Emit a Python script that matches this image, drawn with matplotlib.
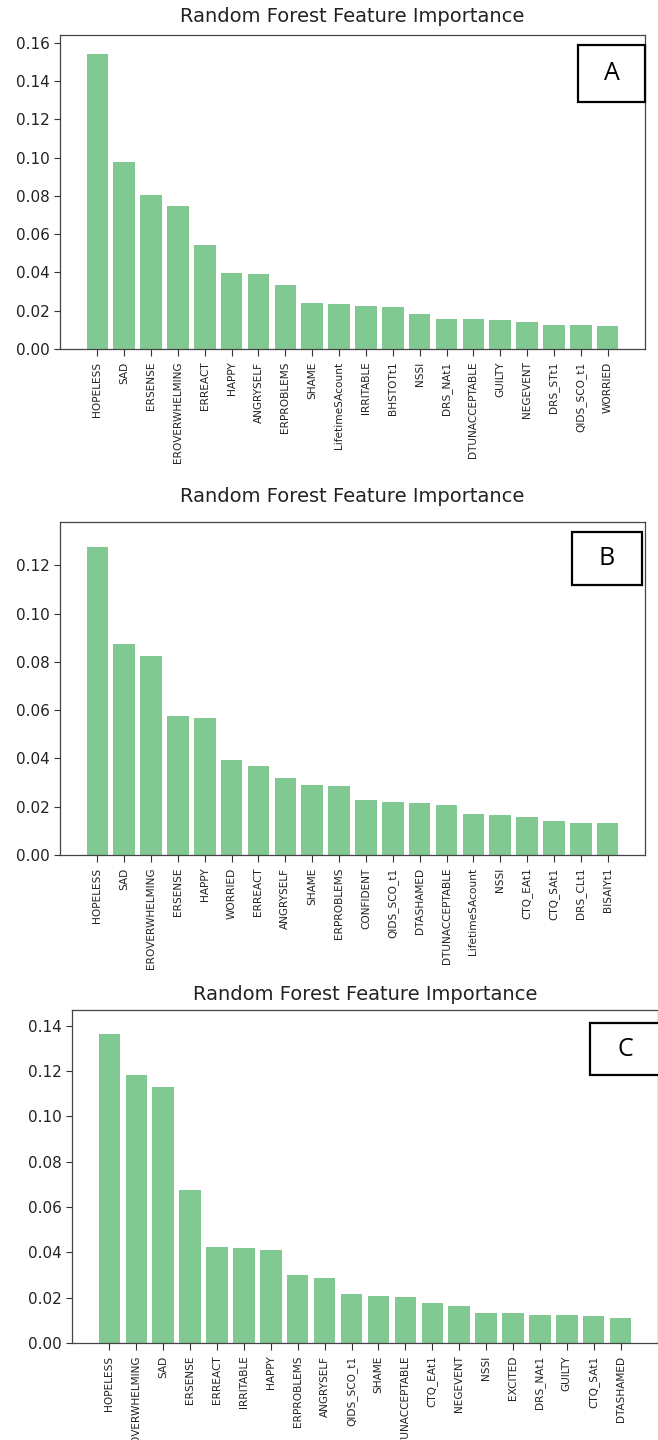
import matplotlib
matplotlib.use("Agg")
import matplotlib.pyplot as plt
from matplotlib.transforms import Bbox, TransformedBbox
from matplotlib.patches import Rectangle

# ---------------- data ----------------
features_a = ["HOPELESS", "SAD", "ERSENSE", "EROVERWHELMING", "ERREACT", "HAPPY",
              "ANGRYSELF", "ERPROBLEMS", "SHAME", "LifetimeSAcount", "IRRITABLE",
              "BHSTOTt1", "NSSI", "DRS_NAt1", "DTUNACCEPTABLE", "GUILTY", "NEGEVENT",
              "DRS_STt1", "QIDS_SCO_t1", "WORRIED"]
importance_a = [0.154, 0.0975, 0.0805, 0.0745, 0.0545, 0.0395, 0.039, 0.0335, 0.024,
                0.0235, 0.0225, 0.022, 0.0185, 0.0155, 0.0155, 0.015, 0.0143, 0.0125,
                0.0125, 0.012]

features_b = ["HOPELESS", "SAD", "EROVERWHELMING", "ERSENSE", "HAPPY", "WORRIED",
              "ERREACT", "ANGRYSELF", "SHAME", "ERPROBLEMS", "CONFIDENT", "QIDS_SCO_t1",
              "DTASHAMED", "DTUNACCEPTABLE", "LifetimeSAcount", "NSSI", "CTQ_EAt1",
              "CTQ_SAt1", "DRS_CLt1", "BISAIYt1"]
importance_b = [0.1275, 0.0875, 0.0825, 0.0578, 0.0568, 0.0393, 0.0368, 0.032, 0.029,
                0.0287, 0.023, 0.022, 0.0215, 0.0208, 0.017, 0.0165, 0.0158, 0.014,
                0.0133, 0.0133]

features_c = ["HOPELESS", "EROVERWHELMING", "SAD", "ERSENSE", "ERREACT", "IRRITABLE",
              "HAPPY", "ERPROBLEMS", "ANGRYSELF", "QIDS_SCO_t1", "SHAME",
              "DTUNACCEPTABLE", "CTQ_EAt1", "NEGEVENT", "NSSI", "EXCITED", "DRS_NAt1",
              "GUILTY", "CTQ_SAt1", "DTASHAMED"]
importance_c = [0.1365, 0.1185, 0.113, 0.0675, 0.0425, 0.042, 0.041, 0.0298, 0.0287,
                0.0217, 0.0208, 0.0205, 0.0178, 0.0163, 0.0132, 0.0132, 0.0125, 0.0122,
                0.0118, 0.011]

panel_letters = ["A", "B", "C"]
title = "Random Forest Feature Importance"

# ---------------- layout ----------------
W, H = 658, 1440
fig = plt.figure(figsize=(W / 100, H / 100), dpi=100)

def fx(px):
    return px / W

def fy(py):
    return 1 - py / H

# (left, right, top, bottom, ymax, title_y, clip_top, clip_bottom, box(x0,x1,y0,y1))
panels = [
    (features_a, importance_a, 60, 645, 35, 349, 0.164, 17, 0, 464, (578, 645, 45, 102)),
    (features_b, importance_b, 60, 645, 522, 855, 0.138, 496, 474, 972, (572, 642, 532, 585)),
    (features_c, importance_c, 72, 658, 1010, 1343, 0.147, 995, 974, 1440, (590, 660, 1023, 1075)),
]

bar_color = "#82c893"

for (feats, vals, l, r, t, b, ymax, ty, ct, cb, box), letter in zip(panels, panel_letters):
    ax = fig.add_axes([fx(l), fy(b), fx(r) - fx(l), fy(t) - fy(b)])
    x = list(range(len(feats)))
    ax.bar(x, vals, color=bar_color, width=0.8)
    ax.set_ylim(0, ymax)
    ax.set_xticks(x)
    ax.set_xticklabels(feats, rotation=90, fontsize=7.6)
    ax.tick_params(axis="y", labelsize=11, colors="#333333", labelcolor="#222222",
                   length=4)
    ax.tick_params(axis="x", colors="#333333", labelcolor="#222222", length=5, pad=4)
    ax.yaxis.set_major_formatter(matplotlib.ticker.FormatStrFormatter("%.2f"))
    for sp in ax.spines.values():
        sp.set_color("#444444")
        sp.set_linewidth(0.9)
    clip = TransformedBbox(Bbox([[0, fy(cb)], [1, fy(ct)]]), fig.transFigure)
    for lab in ax.get_xticklabels():
        lab.set_clip_on(True)
        lab.set_clip_box(clip)
    fig.text(fx((l + r) / 2), fy(ty), title, ha="center", va="center",
             fontsize=14, color="#222222")
    bx0, bx1, by0, by1 = box
    fig.patches.append(Rectangle((fx(bx0), fy(by1)), fx(bx1) - fx(bx0), fy(by0) - fy(by1),
                                 transform=fig.transFigure, facecolor="white",
                                 edgecolor="black", linewidth=1.6, zorder=5))
    fig.text(fx((bx0 + bx1) / 2), fy((by0 + by1) / 2), letter, ha="center", va="center",
             fontsize=18, family=["Open Sans", "DejaVu Sans"], color="black", zorder=6)

fig.savefig("out.png", dpi=100)
